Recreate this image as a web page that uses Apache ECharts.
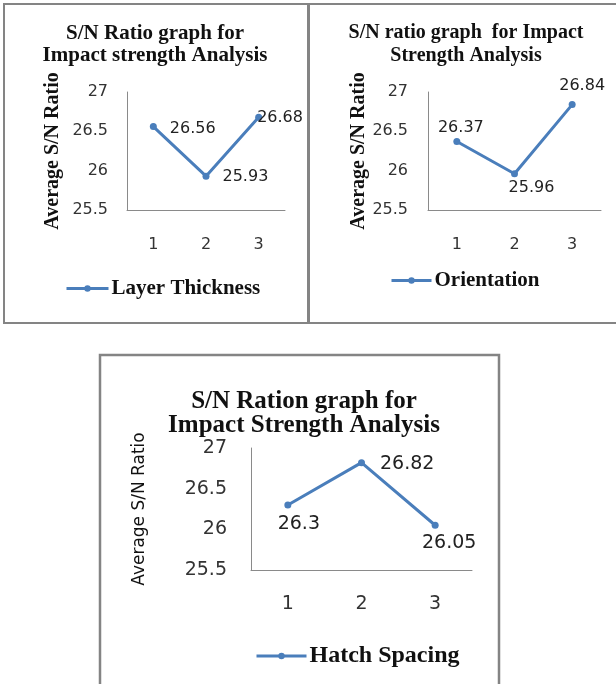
<!DOCTYPE html>
<html>
<head>
<meta charset="utf-8">
<script src="https://cdn.jsdelivr.net/npm/echarts@6/dist/echarts.min.js"></script>
<style>
html,body{margin:0;padding:0;background:#fff;}
#c{width:616px;height:684px;}
</style>
</head>
<body>
<div id="c"></div>
<script>
// ---- data ----
const categories = ['1', '2', '3'];
const layerThickness = [26.56, 25.93, 26.68];
const orientation = [26.37, 25.96, 26.84];
const hatchSpacing = [26.30, 26.82, 26.05];
const yMin = 25.5, yMax = 27, yStep = 0.5;
const titles = [
  'S/N Ratio graph for\nImpact strength Analysis',
  'S/N ratio graph  for Impact\nStrength Analysis',
  'S/N Ration graph for\nImpact Strength Analysis'
];
const seriesNames = ['Layer Thickness', 'Orientation', 'Hatch Spacing'];
const yName = 'Average S/N Ratio';

// ---- styling / layout ----
const blue = '#4a7ebb';
const serif = '"Liberation Serif", "Times New Roman", serif';
const sans = '"DejaVu Sans", sans-serif';
const values = [layerThickness, orientation, hatchSpacing];

const panels = [
  { grid: {left: 127, top: 92, width: 158, height: 118}, tickFont: 16, labelFont: 16,
    yNameFont: {fontFamily: serif, fontWeight: 'bold', fontSize: 20}, yNameGap: 64,
    yLabelMargin: 19, xLabelMargin: 27,
    title: {left: 155, top: 23, fontSize: 21, lineHeight: 22},
    legend: {left: 65, top: 278, itemWidth: 42, fontSize: 21},
    labels: [
      {position: 'right', distance: 13, offset: [0, 2]},
      {position: 'right', distance: 13, offset: [0, 1]},
      {position: 'right', distance: -5, offset: [0, 1]}
    ]},
  { grid: {left: 428, top: 92, width: 173, height: 118}, tickFont: 16, labelFont: 16,
    yNameFont: {fontFamily: serif, fontWeight: 'bold', fontSize: 20}, yNameGap: 59,
    yLabelMargin: 20, xLabelMargin: 27,
    title: {left: 466, top: 21, fontSize: 20, lineHeight: 23},
    legend: {left: 390, top: 270, itemWidth: 40, fontSize: 21},
    labels: [
      {position: 'top', distance: 2, offset: [4, 0]},
      {position: 'bottom', distance: 3, offset: [17, 0]},
      {position: 'top', distance: 7, offset: [10, 0]}
    ]},
  { grid: {left: 251, top: 448, width: 221, height: 122}, tickFont: 19, labelFont: 19,
    yNameFont: {fontFamily: sans, fontWeight: 'normal', fontSize: 17}, yNameGap: 103,
    yLabelMargin: 24, xLabelMargin: 25,
    title: {left: 304, top: 390, fontSize: 25, lineHeight: 24},
    legend: {left: 255, top: 644, itemWidth: 50, fontSize: 24},
    labels: [
      {position: 'bottom', distance: 6, offset: [11, 0]},
      {position: 'right', distance: 15, offset: [0, 1]},
      {position: 'bottom', distance: 5, offset: [14, 0]}
    ]}
];

const option = {
  animation: false,
  backgroundColor: '#fff',
  graphic: [
    {type: 'rect', shape: {x: 4, y: 4, width: 304, height: 319}, style: {fill: 'none', stroke: '#848484', lineWidth: 2}},
    {type: 'rect', shape: {x: 309, y: 4, width: 330, height: 319}, style: {fill: 'none', stroke: '#848484', lineWidth: 2}},
    {type: 'rect', shape: {x: 100, y: 355, width: 399, height: 400}, style: {fill: 'none', stroke: '#848484', lineWidth: 2.5}}
  ],
  title: panels.map((p, i) => ({
    text: titles[i], left: p.title.left, top: p.title.top, textAlign: 'center', padding: 0,
    textStyle: {fontFamily: serif, fontWeight: 'bold', fontSize: p.title.fontSize, lineHeight: p.title.lineHeight, color: '#111'}
  })),
  legend: panels.map((p, i) => ({
    data: [seriesNames[i]], left: p.legend.left, top: p.legend.top, padding: 0,
    itemWidth: p.legend.itemWidth, itemHeight: 8, itemGap: 0,
    lineStyle: {width: 3},
    textStyle: {fontFamily: serif, fontWeight: 'bold', fontSize: p.legend.fontSize, color: '#111', padding: [0, 0, 0, -2]}
  })),
  grid: panels.map(p => Object.assign({containLabel: false}, p.grid)),
  xAxis: panels.map((p, i) => ({
    type: 'category', gridIndex: i, data: categories, boundaryGap: true,
    axisLine: {lineStyle: {color: '#8a8a8a', width: 1}},
    axisTick: {show: false},
    axisLabel: {fontFamily: sans, fontSize: p.tickFont, color: '#333', margin: p.xLabelMargin},
    splitLine: {show: false}
  })),
  yAxis: panels.map((p, i) => ({
    type: 'value', gridIndex: i, min: yMin, max: yMax, interval: yStep,
    name: yName, nameLocation: 'middle', nameRotate: 90, nameGap: p.yNameGap,
    nameTextStyle: Object.assign({color: '#111'}, p.yNameFont),
    axisLine: {show: true, lineStyle: {color: '#8a8a8a', width: 1}},
    axisTick: {show: false},
    axisLabel: {fontFamily: sans, fontSize: p.tickFont, color: '#333', margin: p.yLabelMargin},
    splitLine: {show: false}
  })),
  series: panels.map((p, i) => ({
    type: 'line', name: seriesNames[i], xAxisIndex: i, yAxisIndex: i,
    data: values[i].map((v, j) => ({value: v, label: p.labels[j]})),
    symbol: 'circle', symbolSize: 7,
    lineStyle: {color: blue, width: 3},
    itemStyle: {color: blue},
    label: {show: true, fontFamily: sans, fontSize: p.labelFont, color: '#222'}
  }))
};

const chart = echarts.init(document.getElementById('c'), null, {renderer: 'canvas'});
chart.setOption(option);
</script>
</body>
</html>
